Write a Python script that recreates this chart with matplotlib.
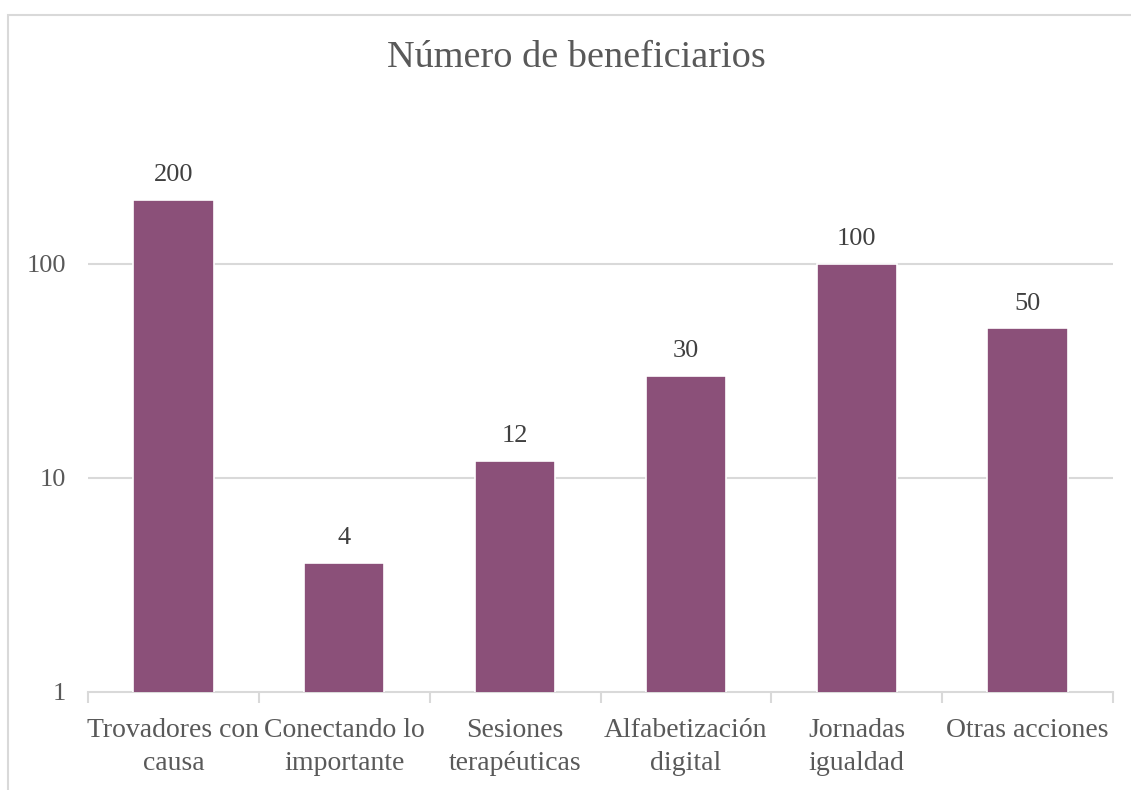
import matplotlib
matplotlib.use("Agg")
import matplotlib.pyplot as plt
from matplotlib.patches import Rectangle
from matplotlib.ticker import FixedLocator, NullFormatter, FixedFormatter

categories = ["Trovadores con\ncausa", "Conectando lo\nimportante", "Sesiones\nterapéuticas",
              "Alfabetización\ndigital", "Jornadas\nigualdad", "Otras acciones"]
values = [200, 4, 12, 30, 100, 50]
title = "Número de beneficiarios"

bar_color = "#8B5079"
text_color = "#595959"
grid_color = "#D9D9D9"
font = ["Liberation Serif", "DejaVu Serif"]
plt.rcParams["font.family"] = font

W, H = 1131, 790
fig = plt.figure(figsize=(W / 100, H / 100), dpi=100)
fig.patch.set_facecolor("white")

# outer chart frame
fig.patches.append(Rectangle((8 / W, -0.05), 1.2, 1 - 15 / H + 0.05, transform=fig.transFigure,
                             fill=False, edgecolor=grid_color, linewidth=1.5))

left, right = 88 / W, 1113 / W
bottom, top = 1 - 692 / H, 1 - 110 / H
ax = fig.add_axes([left, bottom, right - left, top - bottom])

x = list(range(len(categories)))
ax.set_yscale("log")
ax.set_ylim(1, 10 ** ((692 - 110) / 214))
ax.set_xlim(-0.5, len(categories) - 0.5)

bars = ax.bar(x, values, width=0.47, color=bar_color, edgecolor="white", linewidth=1.2, zorder=3)

for xi, v in zip(x, values):
    ax.annotate(str(v), (xi, v), xytext=(0, 10), textcoords="offset points",
                ha="center", va="bottom", fontsize=19, color="#404040")

# grid
ax.yaxis.set_major_locator(FixedLocator([1, 10, 100]))
ax.yaxis.set_major_formatter(FixedFormatter(["1", "10", "100"]))
ax.yaxis.set_minor_locator(FixedLocator([]))
ax.yaxis.set_minor_formatter(NullFormatter())
for gv in [10, 100]:
    ax.axhline(gv, color=grid_color, linewidth=1.5, zorder=1)
ax.tick_params(axis="y", length=0, pad=16, labelsize=19, labelcolor=text_color)

# x ticks: boundaries as major ticks, labels at centers via minor ticks
ax.xaxis.set_major_locator(FixedLocator([i - 0.5 for i in range(len(categories) + 1)]))
ax.xaxis.set_major_formatter(NullFormatter())
ax.xaxis.set_minor_locator(FixedLocator(x))
ax.xaxis.set_minor_formatter(FixedFormatter(categories))
ax.tick_params(axis="x", which="major", length=8, width=1.5, color=grid_color, direction="out")
ax.tick_params(axis="x", which="minor", length=0, pad=19, labelsize=20, labelcolor=text_color)
for lbl in ax.xaxis.get_minorticklabels():
    lbl.set_linespacing(1.38)
    lbl.set_verticalalignment("top")

for s in ["top", "right", "left"]:
    ax.spines[s].set_visible(False)
ax.spines["bottom"].set_color(grid_color)
ax.spines["bottom"].set_linewidth(1.5)
ax.set_facecolor("none")

fig.text(576 / W, 1 - 58 / H, title, ha="center", va="center",
         fontsize=27.5, color=text_color)

fig.savefig("out.png", dpi=100)
